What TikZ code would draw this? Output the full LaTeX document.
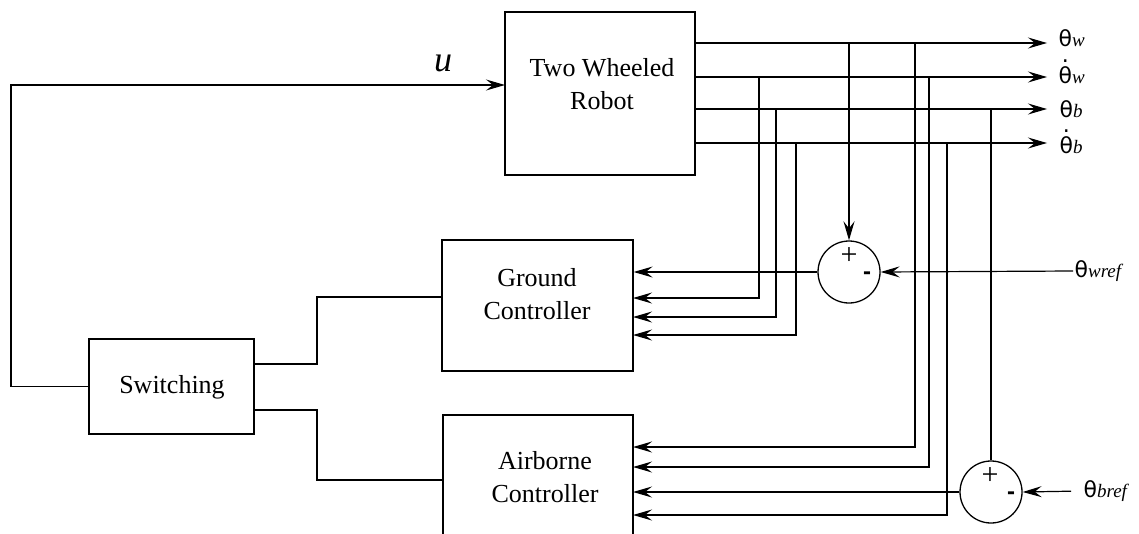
\documentclass[tikz,border=0pt]{standalone}
\usepackage{fontspec}
\setmainfont{Liberation Serif}
\newfontfamily\thfont{DejaVu Sans}
\newfontfamily\sgnfont{Liberation Sans}
\usetikzlibrary{arrows.meta}
\newcommand\Th{{\thfont\fontsize{22}{22}\selectfont θ}}
\newcommand\Thd{{\thfont\fontsize{22}{22}\selectfont\ooalign{θ\cr\hidewidth\raisebox{0.93em}{.}\hidewidth\cr}}}
\newcommand\Sb[1]{{\itshape\fontsize{19}{19}\selectfont #1}}
\begin{document}
\begin{tikzpicture}[x=1pt,y=-1pt,
  line width=1.2pt,
  box/.style={draw, line width=1.3pt, inner sep=0pt},
  txt/.style={align=center, inner sep=0pt, font=\fontsize{26}{33}\selectfont},
  sumc/.style={draw, circle, line width=1.3pt, minimum size=62pt, inner sep=0pt},
  arr/.style={-{Stealth[length=19pt,width=11pt,inset=7pt]}},
  thk/.style={line width=2.1pt},
  lab/.style={anchor=base west, inner sep=0pt}]
\useasboundingbox (0,0) rectangle (1139,533);
\clip (0,0) rectangle (1139,533);
% blocks
\node[box, minimum width=190pt, minimum height=163pt] (robot) at (600,93.5) {};
\node[txt] (robottxt) at (602,84) {Two Wheeled\\Robot};
\node[box, minimum width=191pt, minimum height=131pt] (ground) at (537.5,305.5) {};
\node[txt] (groundtxt) at (537,294) {Ground\\Controller};
\node[box, minimum width=190pt, minimum height=150pt] (air) at (538,490) {};
\node[txt] (airtxt) at (545,477) {Airborne\\Controller};
\node[box, minimum width=165pt, minimum height=95pt] (sw) at (171.5,386.5) {};
\node[txt] (swtxt) at (172,387) {Switching};
\node[sumc] (sum1) at (849,272) {};
\node[sumc] (sum2) at (991,492) {};
\node[inner sep=0pt, font=\fontsize{30}{30}\selectfont] (p1) at (849,256) {+};
\node[inner sep=0pt, font=\sgnfont\bfseries\fontsize{24}{24}\selectfont] (m1) at (867,276) {-};
\node[inner sep=0pt, font=\fontsize{30}{30}\selectfont] (p2) at (990,476) {+};
\node[inner sep=0pt, font=\sgnfont\bfseries\fontsize{24}{24}\selectfont] (m2) at (1011,496) {-};
% ports
\coordinate (o1) at (1047,43);
\coordinate (o2) at (1047,77);
\coordinate (o3) at (1047,109);
\coordinate (o4) at (1047,143);
\coordinate (g2) at (633,298);
\coordinate (g3) at (633,317);
\coordinate (g4) at (633,335);
\coordinate (a1) at (633,447);
\coordinate (a2) at (633,467);
\coordinate (a3) at (633,492);
\coordinate (a4) at (633,515);
\coordinate (v2) at (759,77);
\coordinate (v3) at (776,109);
\coordinate (v4) at (796,143);
\coordinate (w1) at (915,43);
\coordinate (w2) at (929,77);
\coordinate (w3) at (991,109);
\coordinate (w4) at (947,143);
\coordinate (rin) at (505,85);
\coordinate (lft) at (11,85);
\coordinate (s1) at (254,364);
\coordinate (s2) at (254,410);
\coordinate (gin) at (442,297);
\coordinate (ain) at (443,480);
% output labels
\node[lab] (lw) at (1058,46) {\Th\Sb{w}};
\node[lab] (ldw) at (1058,83) {\Thd\Sb{w}};
\node[lab] (lb) at (1059,117) {\Th\Sb{b}};
\node[lab] (ldb) at (1059,153) {\Thd\Sb{b}};
\node[anchor=west, inner sep=1pt] (wref) at (1073,271) {\Th\Sb{wref}};
\node[anchor=west, inner sep=1pt] (bref) at (1082,491) {\Th\Sb{bref}};
\node[inner sep=0pt, font=\itshape\fontsize{36}{36}\selectfont] (ulab) at (443,63) {u};
% robot outputs
\foreach \i in {1,2,3,4} \draw[arr] (robot.east |- o\i) -- (o\i);
% to ground controller
\draw[thk,arr] (sum1.north |- o1) -- (sum1.north);
\draw[arr] (sum1.west) -- (ground.east |- sum1.west);
\draw[arr] (v2) |- (g2);
\draw[arr] (v3) |- (g3);
\draw[arr] (v4) |- (g4);
\draw[arr] (wref.west) -- (sum1.east);
% to airborne controller
\draw[thk,arr] (w1) |- (a1);
\draw[arr] (w2) |- (a2);
\draw (w3) -- (sum2.north);
\draw[arr] (sum2.west) -- (a3);
\draw[arr] (w4) |- (a4);
\draw[arr, shorten <=11pt] (bref.west) -- (sum2.east);
% switching
\draw[arr] (sw.west) -| (lft) -- (rin);
\draw (s1) -- ++(63,0) |- (gin);
\draw (s2) -- ++(63,0) |- (ain);
\end{tikzpicture}
\end{document}
